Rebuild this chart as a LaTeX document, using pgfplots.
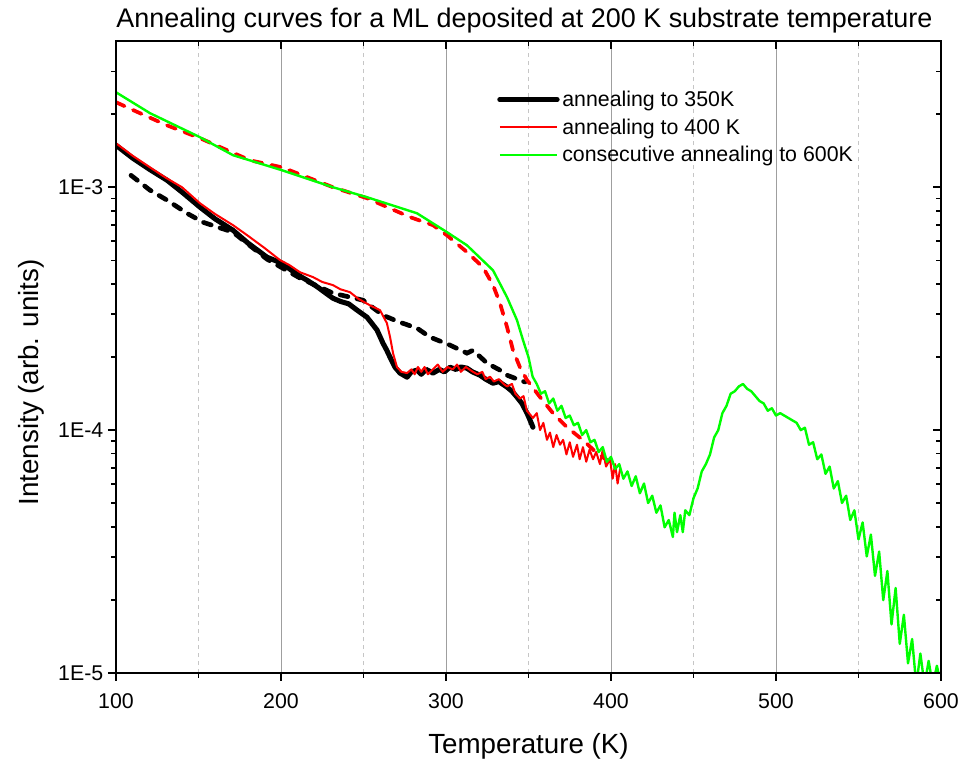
\documentclass[border=0pt]{standalone}
\usepackage{fontspec}
\setmainfont{Liberation Sans}
\usepackage{pgfplots}
\usepackage{pgfplotstable}
\pgfplotsset{compat=1.18}

% T in K, L = log10(intensity)
\pgfplotstableread{
T L
100 -2.827
110.3 -2.881
120 -2.925
130.9 -2.971
140 -3.02
150.9 -3.082
160 -3.13
170.9 -3.177
180 -3.23
191.5 -3.288
200.6 -3.313
206 -3.34
211.5 -3.366
215.8 -3.383
222 -3.41
228 -3.44
231.5 -3.457
236 -3.47
241 -3.48
246.1 -3.506
249 -3.52
252.1 -3.535
255 -3.56
258.2 -3.588
261.8 -3.642
264 -3.67
266.1 -3.700
269 -3.74
272.1 -3.765
276.4 -3.782
279 -3.76
282.4 -3.753
285 -3.77
288 -3.75
292.1 -3.765
296 -3.75
299 -3.76
302.4 -3.741
306 -3.75
309 -3.74
312.7 -3.745
316 -3.76
320.6 -3.774
324 -3.79
328.5 -3.807
332 -3.80
337 -3.823
340 -3.84
343 -3.864
346 -3.89
349.1 -3.930
351 -3.96
352.7 -3.988
}\blacksolid

\pgfplotstableread{
T L
100 -2.819
110 -2.87
120.6 -2.918
130 -2.96
140 -3.00
150.9 -3.066
160 -3.11
170.9 -3.156
180 -3.20
190 -3.25
199.4 -3.300
205 -3.32
211.5 -3.350
219.4 -3.370
225 -3.39
231.5 -3.403
236 -3.42
241.8 -3.432
247 -3.46
253.9 -3.486
260 -3.506
264.2 -3.560
266.1 -3.617
267.9 -3.683
270.3 -3.741
273 -3.76
276.4 -3.765
279 -3.75
281 -3.77
283 -3.74
285 -3.76
287 -3.74
289 -3.77
292 -3.75
295 -3.73
298 -3.76
301 -3.74
304 -3.75
306.7 -3.73
309 -3.76
312 -3.74
316.4 -3.76
319 -3.77
322 -3.76
324 -3.79
326.7 -3.78
329 -3.80
332 -3.79
335 -3.81
337 -3.82
340 -3.81
342 -3.85
344.8 -3.87
347 -3.86
349 -3.92
352.7 -3.95
355 -3.93
357 -4.00
359 -3.97
361.2 -4.04
363 -4.01
365 -4.07
367 -4.02
369.1 -4.06
371 -4.04
373 -4.10
375 -4.05
377 -4.11
379.4 -4.06
381 -4.12
383 -4.07
385 -4.13
387 -4.08
389.1 -4.12
391 -4.09
393.3 -4.14
395 -4.08
397 -4.15
399.4 -4.12
401 -4.20
402.5 -4.14
404 -4.22
405.5 -4.16
}\redsolid

\pgfplotstableread{
T L
100 -2.609
120.6 -2.695
150.9 -2.794
170.9 -2.868
200.6 -2.930
231.5 -3.000
252.1 -3.041
282.4 -3.107
300.6 -3.185
312.7 -3.239
328.5 -3.342
337.0 -3.453
343.0 -3.547
346.7 -3.630
350 -3.70
352.5 -3.78
355 -3.81
357.5 -3.85
360 -3.84
362.5 -3.89
365 -3.87
367.5 -3.92
370 -3.90
372.5 -3.95
375 -3.94
377.5 -3.98
380 -3.97
382.5 -4.02
385 -4.00
387.5 -4.05
390 -4.04
392.5 -4.09
395 -4.07
397.5 -4.13
400 -4.11
402.5 -4.16
405 -4.14
407.5 -4.20
410 -4.17
412.5 -4.23
415 -4.19
417.5 -4.26
420 -4.22
422.5 -4.30
425 -4.27
427.5 -4.34
430 -4.31
432.5 -4.40
435 -4.37
437.5 -4.44
438.5 -4.34
440 -4.42
442 -4.35
443.5 -4.42
445 -4.33
447.5 -4.35
450 -4.28
452.5 -4.24
455 -4.17
457.5 -4.14
460 -4.10
462.5 -4.03
465 -4.00
467.5 -3.93
470 -3.90
472.5 -3.85
475 -3.84
477.5 -3.82
480 -3.81
482.5 -3.83
485 -3.84
487.5 -3.86
490 -3.88
492.5 -3.89
495 -3.92
497.5 -3.91
500 -3.94
502.5 -3.93
505 -3.94
507.5 -3.95
510 -3.96
512.5 -3.97
515 -4.00
517.5 -3.99
520 -4.06
522.5 -4.05
525 -4.12
527.5 -4.10
530 -4.18
532.5 -4.15
535 -4.24
537.5 -4.21
540 -4.30
542.5 -4.27
545 -4.37
547.5 -4.33
550 -4.45
552.5 -4.38
555 -4.52
557.5 -4.43
560 -4.60
562.5 -4.50
565 -4.70
567.5 -4.58
570 -4.80
572.5 -4.65
575 -4.88
577.5 -4.76
580 -4.96
582.5 -4.86
585 -5.05
587.5 -4.92
590 -5.05
592.5 -4.95
595 -5.05
597.5 -4.97
600 -5.05
}\greensolid

\pgfplotstableread{
T L
109.1 -2.951
120.6 -3.012
130.9 -3.053
143.0 -3.107
152.7 -3.144
170.9 -3.185
191.5 -3.296
211.5 -3.374
231.5 -3.436
249.7 -3.465
261.8 -3.527
272.1 -3.556
282.4 -3.580
290.3 -3.617
302.4 -3.650
312.7 -3.683
316.4 -3.671
324.8 -3.724
332.7 -3.753
337.0 -3.774
347.9 -3.802
}\blackdashed

\pgfplotstableread{
T L
100 -2.650
114.5 -2.695
130.9 -2.745
150.9 -2.798
181.2 -2.889
200.6 -2.918
231.5 -3.000
252.1 -3.045
278.2 -3.123
292.1 -3.156
300.6 -3.198
312.7 -3.267
322.4 -3.329
328.5 -3.403
332.7 -3.477
337.0 -3.576
340.6 -3.671
344.8 -3.741
349.1 -3.794
357.0 -3.864
364.8 -3.930
373.3 -3.988
383.0 -4.041
391.5 -4.095
399.4 -4.132
}\reddashed

\definecolor{lime}{RGB}{0,255,0}

\begin{document}
\begin{tikzpicture}
\begin{axis}[name=ax,
  scale only axis, width=618.75pt, height=474pt,
  xmin=100, xmax=600, ymode=log, ymin=1e-5, ymax=4e-3,
  xtick={100,200,300,400,500,600}, minor x tick num=1,
  ytick={1e-5,1e-4,1e-3},
  minor ytick={2e-5,3e-5,4e-5,5e-5,6e-5,7e-5,8e-5,9e-5,2e-4,3e-4,4e-4,5e-4,6e-4,7e-4,8e-4,9e-4,2e-3,3e-3},
  major tick length=6pt, minor tick length=3.5pt,
  every tick/.style={black, line width=1.2pt},
  axis line style={line width=1.5pt},
  tick pos=left, tick align=outside,
  yticklabels={1E-5,1E-4,1E-3},
  /pgf/number format/assume math mode=true,
  /pgf/number format/1000 sep={},
  tick label style={font=\fontsize{16}{19}\selectfont},
  xticklabel style={yshift=-6pt},
  xmajorgrids, xminorgrids,
  major grid style={draw=gray!75, line width=0.7pt},
  minor grid style={draw=gray!45, dashed, line width=0.6pt},
  title={Annealing curves for a ML deposited at 200 K substrate temperature},
  title style={font=\fontsize{20.2}{24}\selectfont, at={(axis description cs:0.495,1.009)}, anchor=base},
  xlabel={Temperature (K)},
  xlabel style={font=\fontsize{20.8}{24}\selectfont, at={(axis description cs:0.5,-0.1266)}, anchor=base},
  ylabel={Intensity (arb. units)},
  ylabel style={font=\fontsize{20.8}{24}\selectfont, at={(axis description cs:-0.0945,0.46)}, anchor=base},
  legend style={draw=none, fill=none, at={(axis description cs:0.4618,0.9256)}, anchor=north west,
    font=\fontsize{16}{19}\selectfont, cells={anchor=west}, row sep=3.6pt, inner sep=0pt},
  legend image code/.code={\draw[#1] (0pt,0pt) -- (43pt,0pt);},
]
\addplot[black, line width=3.5pt, dash pattern=on 6pt off 7pt, line cap=round, forget plot]
  table[x=T, y expr=10^(\thisrow{L})] {\blackdashed};
\addplot[red, line width=2.8pt, dash pattern=on 7pt off 7pt, line cap=round, forget plot]
  table[x=T, y expr=10^(\thisrow{L})] {\reddashed};
\addplot[black, line width=3.8pt, line join=round, line cap=round]
  table[x=T, y expr=10^(\thisrow{L})] {\blacksolid};
\addlegendentry{annealing to 350K}
\addplot[red, line width=1.5pt, line join=round]
  table[x=T, y expr=10^(\thisrow{L})] {\redsolid};
\addlegendentry{annealing to 400 K}
\addplot[lime, line width=1.8pt, line join=round]
  table[x=T, y expr=10^(\thisrow{L})] {\greensolid};
\addlegendentry{consecutive annealing to 600K}
\end{axis}
\begin{axis}[
  scale only axis, width=618.75pt, height=474pt,
  xmin=100, xmax=600, ymode=log, ymin=1e-5, ymax=4e-3,
  xtick={100,200,300,400,500,600}, minor x tick num=1,
  ytick={1e-5,1e-4,1e-3},
  minor ytick={2e-5,3e-5,4e-5,5e-5,6e-5,7e-5,8e-5,9e-5,2e-4,3e-4,4e-4,5e-4,6e-4,7e-4,8e-4,9e-4,2e-3,3e-3},
  major tick length=6pt, minor tick length=3.5pt,
  every tick/.style={black, line width=1.2pt},
  axis line style={line width=1.5pt},
  tick pos=right, tick align=inside,
  xticklabels={}, yticklabels={},
]
\addplot[draw=none] coordinates {(300,1e-4)};
\end{axis}
\pgfresetboundingbox
\path ([xshift=-87pt,yshift=-66.75pt]ax.south west) rectangle ([xshift=17.25pt,yshift=30.75pt]ax.north east);
\end{tikzpicture}
\end{document}
